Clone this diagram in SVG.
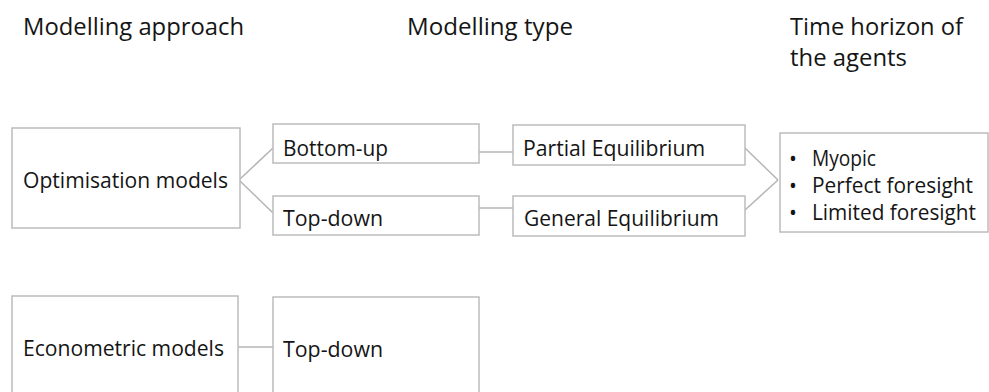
<svg xmlns="http://www.w3.org/2000/svg" width="989" height="392" viewBox="0 0 989 392">
<style>
.box{fill:#fff;stroke:#bcbcbc;stroke-width:1.5}
.t{font-family:"Open Sans","Liberation Sans",sans-serif;fill:#151515;font-size:21px}
.h{font-family:"Open Sans","Liberation Sans",sans-serif;fill:#151515;font-size:23px}
.c{stroke:#b4b4b4;stroke-width:1.5;fill:none}
</style>
<rect width="989" height="392" fill="#fff"/>
<g id="headers">
<text class="h" x="23" y="35" textLength="221" lengthAdjust="spacingAndGlyphs">Modelling approach</text>
<text class="h" x="407" y="35" textLength="166" lengthAdjust="spacingAndGlyphs">Modelling type</text>
<text class="h" x="790" y="35" textLength="173" lengthAdjust="spacingAndGlyphs">Time horizon of</text>
<text class="h" x="790" y="66" textLength="117" lengthAdjust="spacingAndGlyphs">the agents</text>
</g>
<g id="connectors">
<line class="c" x1="239" y1="180" x2="273" y2="148"/>
<line class="c" x1="239" y1="180" x2="273" y2="213"/>
<line class="c" x1="479" y1="152" x2="513" y2="152"/>
<line class="c" x1="479" y1="208" x2="513" y2="208"/>
<line class="c" x1="745" y1="148" x2="778" y2="180"/>
<line class="c" x1="745" y1="210" x2="778" y2="180"/>
<line class="c" x1="238" y1="347" x2="273" y2="347"/>
</g>
<g id="optimisation">
<rect class="box" x="12" y="128" width="228" height="100"/>
<text class="t" x="23" y="188" textLength="205" lengthAdjust="spacingAndGlyphs">Optimisation models</text>
</g>
<g id="bottom-up">
<rect class="box" x="273" y="124" width="206" height="39"/>
<text class="t" x="283" y="156" textLength="105" lengthAdjust="spacingAndGlyphs">Bottom-up</text>
</g>
<g id="top-down-1">
<rect class="box" x="273" y="196" width="206" height="39"/>
<text class="t" x="283" y="226" textLength="100" lengthAdjust="spacingAndGlyphs">Top-down</text>
</g>
<g id="partial">
<rect class="box" x="513" y="125" width="232" height="40"/>
<text class="t" x="523" y="156" textLength="182" lengthAdjust="spacingAndGlyphs">Partial Equilibrium</text>
</g>
<g id="general">
<rect class="box" x="513" y="196" width="232" height="40"/>
<text class="t" x="524" y="226" textLength="195" lengthAdjust="spacingAndGlyphs">General Equilibrium</text>
</g>
<g id="time-horizon">
<rect class="box" x="780" y="133" width="208" height="99"/>
<text class="t" x="789" y="166">•</text>
<text class="t" x="812" y="166" textLength="64" lengthAdjust="spacingAndGlyphs">Myopic</text>
<text class="t" x="789" y="193">•</text>
<text class="t" x="812" y="193" textLength="161" lengthAdjust="spacingAndGlyphs">Perfect foresight</text>
<text class="t" x="789" y="220">•</text>
<text class="t" x="812" y="220" textLength="164" lengthAdjust="spacingAndGlyphs">Limited foresight</text>
</g>
<g id="econometric">
<rect class="box" x="12" y="296" width="226" height="110"/>
<text class="t" x="23" y="356" textLength="201" lengthAdjust="spacingAndGlyphs">Econometric models</text>
</g>
<g id="top-down-2">
<rect class="box" x="273" y="297" width="206" height="110"/>
<text class="t" x="283" y="357" textLength="100" lengthAdjust="spacingAndGlyphs">Top-down</text>
</g>
</svg>
